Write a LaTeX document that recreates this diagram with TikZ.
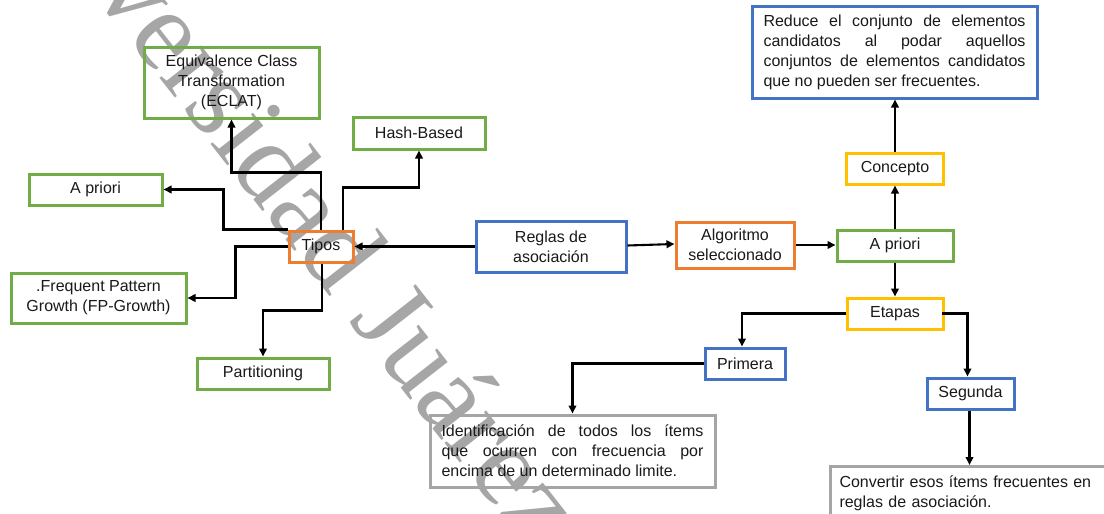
\documentclass[tikz,border=0pt]{standalone}
\usepackage{fontspec}
\setmainfont{Liberation Sans}
\newfontfamily\wmfont{Liberation Serif}
\usetikzlibrary{arrows.meta}
\definecolor{cgreen}{HTML}{70AD47}
\definecolor{corange}{HTML}{ED7D31}
\definecolor{cblue}{HTML}{4472C4}
\definecolor{cyellow}{HTML}{FFC000}
\definecolor{cgray}{HTML}{A5A5A5}
\definecolor{wmgray}{HTML}{A6A6A6}
\newcommand{\jline}[1]{\makebox[262pt][s]{#1}}
\begin{document}
\begin{tikzpicture}[x=1pt,y=-1pt,
  box/.style={draw, line width=3pt, inner sep=0pt, align=center,
    font=\fontsize{16}{20}\selectfont, text=black!90},
  gbox/.style={box, draw=cgreen},
  obox/.style={box, draw=corange},
  bbox/.style={box, draw=cblue},
  ybox/.style={box, draw=cyellow},
  grbox/.style={box, draw=cgray},
  ln/.style={line width=2.1pt},
  arr/.style={ln, -{Triangle[length=8pt,width=7.5pt]}},
  wm/.style={text=wmgray, font=\wmfont\fontsize{115}{115}\selectfont, rotate=-52, anchor=base west, inner sep=0pt}]
\useasboundingbox (0,0) rectangle (1104,514);
\begin{scope}
\clip (0,0) rectangle (1104,514);
% watermark
\node[wm] (wmark) at (-15,-145) {Universidad Juárez del Estado de Durango};

% left cluster
\node[gbox, minimum width=175pt, minimum height=71pt] (eclat) at (231.5,82.5) {Equivalence Class\\Transformation\\(ECLAT)};
\node[gbox, minimum width=132pt, minimum height=32pt] (hash) at (419,133) {Hash-Based};
\node[gbox, minimum width=133pt, minimum height=31pt] (apri1) at (95.5,189.5) {A priori};
\node[obox, minimum width=64pt, minimum height=31pt] (tipos) at (321,246.5) {Tipos};
\node[gbox, minimum width=175pt, minimum height=50pt] (fp) at (98.5,298) {.Frequent Pattern\\Growth (FP-Growth)};
\node[gbox, minimum width=132pt, minimum height=31pt] (part) at (263,373.5) {Partitioning};

% main chain
\node[bbox, minimum width=150pt, minimum height=51pt] (reglas) at (551,246.5) {Reglas de\\asociación};
\node[obox, minimum width=118pt, minimum height=46pt] (algo) at (735,245) {Algoritmo\\seleccionado};
\node[gbox, minimum width=116pt, minimum height=31pt] (apri2) at (895,245.5) {A priori};
\node[ybox, minimum width=97pt, minimum height=31pt] (concepto) at (895,168.5) {Concepto};
\node[bbox, minimum width=285pt, minimum height=92pt, align=left] (reduce) at (894.5,52)
  {\jline{Reduce el conjunto de elementos}\\\jline{candidatos al podar aquellos}\\\jline{conjuntos de elementos candidatos}\\que no pueden ser frecuentes.};
\node[ybox, minimum width=96pt, minimum height=31pt] (etapas) at (895,313.5) {Etapas};
\node[bbox, minimum width=80pt, minimum height=31pt] (primera) at (745,363.5) {Primera};
\node[bbox, minimum width=87pt, minimum height=31pt] (segunda) at (970.5,393.5) {Segunda};
\node[grbox, minimum width=285pt, minimum height=72pt, align=left] (ident) at (572.5,451)
  {\jline{Identificación de todos los ítems}\\\jline{que ocurren con frecuencia por}\\encima de un determinado limite.};
\node[grbox, anchor=north west, inner xsep=9pt, inner ysep=9pt, minimum width=300pt, text width=282pt, align=left] (conv) at (829,465)
  {Convertir esos ítems frecuentes en\\reglas de asociación.\rule[-25pt]{0pt}{25pt}};

% connectors
\draw[arr] (reglas.west) -- (tipos.east);
\draw[arr] (tipos.north west) -- ++(-64,0) |- (apri1.east);
\draw[arr] (tipos.north) -- ++(0,-57) -| (eclat.south);
\draw[arr] ([xshift=22pt]tipos.north) -- ++(0,-42) -| (hash.south);
\draw[arr] (tipos.west) -- ++(-52,0) |- (fp.east);
\draw[arr] ([xshift=1pt]tipos.south) -- ++(0,47) -| (part.north);
\draw[arr] ([yshift=1pt]reglas.east) -- ([yshift=1pt]algo.west);
\draw[arr] (algo.east) -- (algo.east -| apri2.west);
\draw[arr] (apri2.north) -- (concepto.south);
\draw[arr] (concepto.north) -- (concepto.north |- reduce.south);
\draw[arr] (apri2.south) -- (etapas.north);
\draw[arr] (etapas.west) -| ([xshift=-3pt]primera.north);
\draw[arr] ([xshift=-3pt]etapas.east) -| ([xshift=-3pt]segunda.north);
\draw[arr] (primera.west) -| (ident.north);
\draw[arr] ([xshift=-1pt]segunda.south) -- ([xshift=-1pt]segunda.south |- conv.north);
\end{scope}
\end{tikzpicture}
\end{document}
